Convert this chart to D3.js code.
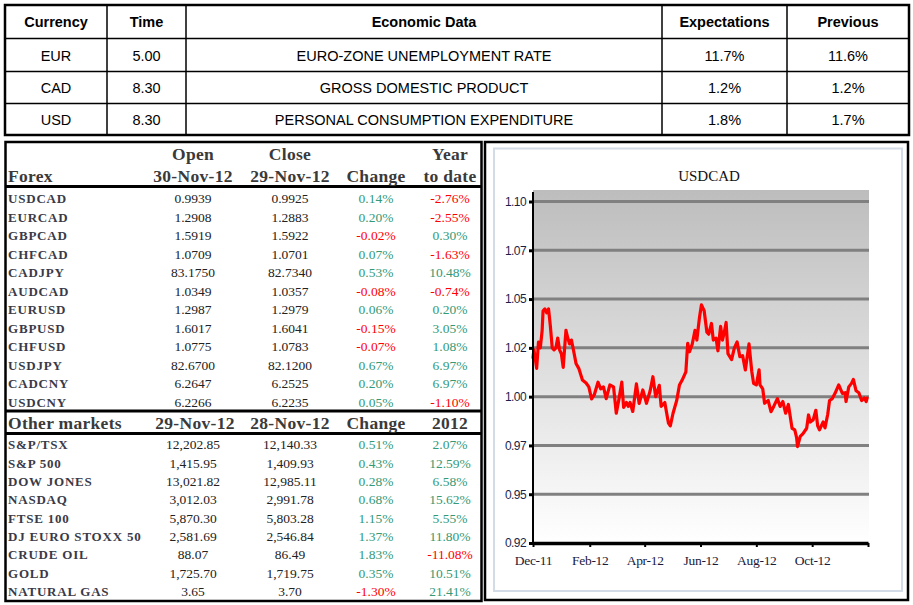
<!DOCTYPE html>
<html><head><meta charset="utf-8">
<script src="https://cdn.jsdelivr.net/npm/d3@7"></script>
<style>body{margin:0;background:#fff}svg{display:block}</style>
</head><body>
<svg id="c" width="913" height="605"></svg>
<script>
// ---------- DATA ----------
const calHeaders = ["Currency","Time","Economic Data","Expectations","Previous"];
const calCurrency = ["EUR","CAD","USD"];
const calTime = ["5.00","8.30","8.30"];
const calEvent = ["EURO-ZONE UNEMPLOYMENT RATE","GROSS DOMESTIC PRODUCT","PERSONAL CONSUMPTION EXPENDITURE"];
const calExpect = ["11.7%","1.2%","1.8%"];
const calPrev = ["11.6%","1.2%","1.7%"];

const fxHeadTop = ["","Open","Close","","Year"];
const fxHeadBottom = ["Forex","30-Nov-12","29-Nov-12","Change","to date"];
const fxNames = ["USDCAD","EURCAD","GBPCAD","CHFCAD","CADJPY","AUDCAD","EURUSD","GBPUSD","CHFUSD","USDJPY","CADCNY","USDCNY"];
const fxOpen = ["0.9939","1.2908","1.5919","1.0709","83.1750","1.0349","1.2987","1.6017","1.0775","82.6700","6.2647","6.2266"];
const fxClose = ["0.9925","1.2883","1.5922","1.0701","82.7340","1.0357","1.2979","1.6041","1.0783","82.1200","6.2525","6.2235"];
const fxChange = ["0.14%","0.20%","-0.02%","0.07%","0.53%","-0.08%","0.06%","-0.15%","-0.07%","0.67%","0.20%","0.05%"];
const fxYtd = ["-2.76%","-2.55%","0.30%","-1.63%","10.48%","-0.74%","0.20%","3.05%","1.08%","6.97%","6.97%","-1.10%"];

const mkHead = ["Other markets","29-Nov-12","28-Nov-12","Change","2012"];
const mkNames = ["S&P/TSX","S&P 500","DOW JONES","NASDAQ","FTSE 100","DJ EURO STOXX 50","CRUDE OIL","GOLD","NATURAL GAS"];
const mkLast = ["12,202.85","1,415.95","13,021.82","3,012.03","5,870.30","2,581.69","88.07","1,725.70","3.65"];
const mkPrev = ["12,140.33","1,409.93","12,985.11","2,991.78","5,803.28","2,546.84","86.49","1,719.75","3.70"];
const mkChange = ["0.51%","0.43%","0.28%","0.68%","1.15%","1.37%","1.83%","0.35%","-1.30%"];
const mkYtd = ["2.07%","12.59%","6.58%","15.62%","5.55%","11.80%","-11.08%","10.51%","21.41%"];

const chartTitle = "USDCAD";
const yTickValues = [0.925,0.95,0.975,1.0,1.025,1.05,1.075,1.10];
const yTickLabels = ["0.92","0.95","0.97","1.00","1.02","1.05","1.07","1.10"];
const xTickDates = ["2011-12-01","2012-02-01","2012-04-01","2012-06-01","2012-08-01","2012-10-01","2012-12-01"];
const xTickLabels = ["Dec-11","Feb-12","Apr-12","Jun-12","Aug-12","Oct-12",""];

const usdcadDates = ["2011-12-01","2011-12-02","2011-12-05","2011-12-07","2011-12-09","2011-12-11","2011-12-12","2011-12-14","2011-12-16","2011-12-18","2011-12-20","2011-12-22","2011-12-24","2011-12-26","2011-12-28","2011-12-30",
"2012-01-01","2012-01-03","2012-01-06","2012-01-08","2012-01-10","2012-01-12","2012-01-15","2012-01-17","2012-01-20","2012-01-24","2012-01-28","2012-01-31",
"2012-02-03","2012-02-06","2012-02-10","2012-02-13","2012-02-16","2012-02-19","2012-02-23","2012-02-27",
"2012-03-01","2012-03-04","2012-03-07","2012-03-09","2012-03-12","2012-03-14","2012-03-16","2012-03-19","2012-03-23","2012-03-26","2012-03-30",
"2012-04-03","2012-04-07","2012-04-10","2012-04-13","2012-04-17","2012-04-19","2012-04-23","2012-04-27","2012-04-29",
"2012-05-02","2012-05-06","2012-05-09","2012-05-12","2012-05-16","2012-05-18","2012-05-20","2012-05-23","2012-05-26","2012-05-28","2012-05-31",
"2012-06-02","2012-06-05","2012-06-08","2012-06-10","2012-06-13","2012-06-15","2012-06-18","2012-06-20","2012-06-23","2012-06-25","2012-06-27","2012-06-29",
"2012-07-01","2012-07-05","2012-07-08","2012-07-11","2012-07-14","2012-07-17","2012-07-20","2012-07-24","2012-07-27","2012-07-29",
"2012-08-01","2012-08-04","2012-08-05","2012-08-08","2012-08-10","2012-08-14","2012-08-17","2012-08-20","2012-08-24","2012-08-27","2012-08-30",
"2012-09-02","2012-09-05","2012-09-07","2012-09-09","2012-09-12","2012-09-14","2012-09-15","2012-09-18","2012-09-21","2012-09-25","2012-09-27","2012-09-29",
"2012-10-02","2012-10-05","2012-10-07","2012-10-09","2012-10-13","2012-10-15","2012-10-18","2012-10-20","2012-10-23","2012-10-26","2012-10-30",
"2012-11-03","2012-11-06","2012-11-07","2012-11-10","2012-11-13","2012-11-15","2012-11-18","2012-11-21","2012-11-24","2012-11-27","2012-11-29","2012-11-30"];
const usdcadValues = [1.020,1.024,1.0145,1.028,1.025,1.034,1.044,1.045,1.043,1.045,1.036,1.025,1.024,1.025,1.030,1.024,
1.022,1.015,1.034,1.030,1.027,1.029,1.022,1.017,1.0145,1.0085,1.007,1.005,
0.9988,1.001,1.0074,1.004,1.005,0.999,1.006,1.005,
0.9915,0.999,1.0074,0.9945,0.997,0.995,0.997,0.9924,1.0065,0.9965,1.0034,
0.9966,1.003,1.0102,1.000,1.0058,0.995,0.997,0.9864,0.985,
0.9915,0.998,1.006,1.0085,1.0127,1.0273,1.023,1.027,1.034,1.029,1.041,
1.047,1.044,1.033,1.032,1.0375,1.029,1.030,1.0235,1.036,1.029,1.033,1.038,
1.022,1.019,1.025,1.028,1.0205,1.021,1.0137,1.027,1.013,1.0068,
1.006,1.0137,1.006,1.004,0.9966,0.998,0.9923,0.995,0.999,0.995,0.9975,
0.9915,0.996,0.990,0.9838,0.983,0.979,0.9744,0.9796,0.981,0.9838,0.9906,0.987,
0.988,0.993,0.985,0.983,0.987,0.984,0.991,0.998,0.999,1.0017,1.006,
1.0017,1.002,0.9975,1.005,1.0068,1.0088,1.003,1.002,0.998,0.9993,0.9975,0.9993];

// ---------- DRAW ----------
const svg = d3.select("#c");
const SANS = "'Liberation Sans', Arial, sans-serif";
const SERIF = "'Liberation Serif', 'Times New Roman', serif";
const GREEN = "#339977", RED = "#ff0000";
const colFor = s => s.trim().startsWith("-") ? RED : GREEN;

// ===== top calendar table =====
const calG = svg.append("g");
const calX = [5,107,186,662,787,909];
const calY = [5,38.5,71.5,103.5,135];
calY.slice(1,-1).forEach(yy => calG.append("line").attr("x1",5).attr("x2",909).attr("y1",yy).attr("y2",yy).attr("stroke","#000").attr("stroke-width",1.5));
calX.slice(1,-1).forEach(xx => calG.append("line").attr("x1",xx).attr("x2",xx).attr("y1",5).attr("y2",135).attr("stroke","#000").attr("stroke-width",1.5));
calG.append("rect").attr("x",5).attr("y",5).attr("width",904).attr("height",130).attr("fill","none").attr("stroke","#000").attr("stroke-width",2.5);
const calCols = [calCurrency,calTime,calEvent,calExpect,calPrev];
calHeaders.forEach((h,i)=>{
  const cx = (calX[i]+calX[i+1])/2;
  calG.append("text").attr("x",cx).attr("y",(calY[0]+calY[1])/2+5).attr("text-anchor","middle")
    .attr("font-family",SANS).attr("font-size",14.5).attr("font-weight","bold").text(h);
  calCols[i].forEach((v,r)=>{
    calG.append("text").attr("x",cx).attr("y",(calY[r+1]+calY[r+2])/2+5.5).attr("text-anchor","middle")
      .attr("font-family",SANS).attr("font-size",14.5).text(v);
  });
});

// ===== left market table =====
const lt = svg.append("g");
const colC = [193,290,376,450];
lt.append("rect").attr("x",5.5).attr("y",142).attr("width",476).attr("height",459).attr("fill","none").attr("stroke","#000").attr("stroke-width",2.5);
[186.5,411,433.5].forEach(yy=>lt.append("line").attr("x1",5).attr("x2",482).attr("y1",yy).attr("y2",yy).attr("stroke","#000").attr("stroke-width",3));
const headStyle = s => s.attr("font-family",SERIF).attr("font-size",17.5).attr("font-weight","bold").attr("fill","#3a3a3a").attr("letter-spacing",0.3);
fxHeadTop.forEach((h,i)=>{ if(i>0 && h) headStyle(lt.append("text").attr("x",colC[i-1]).attr("y",160).attr("text-anchor","middle").text(h)); });
fxHeadBottom.forEach((h,i)=>{
  if(i===0) headStyle(lt.append("text").attr("x",8).attr("y",182).text(h));
  else headStyle(lt.append("text").attr("x",colC[i-1]).attr("y",182).attr("text-anchor","middle").text(h));
});
mkHead.forEach((h,i)=>{
  if(i===0) headStyle(lt.append("text").attr("x",8).attr("y",428.5).text(h));
  else headStyle(lt.append("text").attr("x",colC[i-1]+(i===1?2:0)).attr("y",428.5).attr("text-anchor","middle").text(h));
});
const fxRowY = d3.scaleLinear().domain([0,11]).range([203.3,406.7]);
const mkRowY = d3.scaleLinear().domain([0,8]).range([449.3,596]);
function drawRows(names, a, b, c, d, yS){
  names.forEach((n,r)=>{
    const yy = yS(r);
    lt.append("text").attr("x",8).attr("y",yy).attr("font-family",SERIF).attr("font-size",13).attr("font-weight","bold")
      .attr("letter-spacing",0.8).attr("fill","#3a3a48").text(n);
    [a[r],b[r]].forEach((v,k)=>lt.append("text").attr("x",colC[k]).attr("y",yy).attr("text-anchor","middle")
      .attr("font-family",SERIF).attr("font-size",13.5).attr("fill","#222").text(v));
    [c[r],d[r]].forEach((v,k)=>lt.append("text").attr("x",colC[k+2]).attr("y",yy).attr("text-anchor","middle")
      .attr("font-family",SERIF).attr("font-size",13.5).attr("fill",colFor(v)).text(v));
  });
}
drawRows(fxNames,fxOpen,fxClose,fxChange,fxYtd,fxRowY);
drawRows(mkNames,mkLast,mkPrev,mkChange,mkYtd,mkRowY);

// ===== chart panel =====
const cp = svg.append("g");
cp.append("rect").attr("x",485).attr("y",142).attr("width",423).attr("height",458).attr("fill","#fff").attr("stroke","#000").attr("stroke-width",2.5);
cp.append("rect").attr("x",494).attr("y",148.5).attr("width",408).attr("height",442.5).attr("fill","#fff").attr("stroke","#d3dbe6").attr("stroke-width",2);
cp.append("text").attr("x",709).attr("y",181).attr("text-anchor","middle").attr("font-family",SERIF).attr("font-size",15).attr("fill","#111").text(chartTitle);

const parse = d3.timeParse("%Y-%m-%d");
const x = d3.scaleTime().domain([parse(xTickDates[0]), parse(xTickDates[xTickDates.length-1])]).range([533,868]);
const y = d3.scaleLinear().domain([0.925,1.10]).range([543,201.5]);

const defs = svg.append("defs");
const gr = defs.append("linearGradient").attr("id","bg").attr("x1",0).attr("x2",0).attr("y1",0).attr("y2",1);
gr.append("stop").attr("offset","0%").attr("stop-color","#bdbdbd");
gr.append("stop").attr("offset","100%").attr("stop-color","#ffffff");
cp.append("rect").attr("x",533).attr("y",190).attr("width",336).attr("height",353).attr("fill","url(#bg)");

// gridlines
cp.append("g").selectAll("line").data(yTickValues.filter(v=>v>0.93)).join("line")
  .attr("x1",533).attr("x2",869).attr("y1",d=>y(d)).attr("y2",d=>y(d))
  .attr("stroke","#808080").attr("stroke-width",3);

// line
const pts = usdcadDates.map((d,i)=>({date:parse(d), v:usdcadValues[i]}));
cp.append("path").datum(pts).attr("fill","none").attr("stroke","#ff0000").attr("stroke-width",3.2)
  .attr("stroke-linejoin","round").attr("stroke-linecap","round")
  .attr("d", d3.line().x(d=>x(d.date)).y(d=>y(d.v)));

// y axis
const yAxis = cp.append("g").attr("transform","translate(533,0)")
  .call(d3.axisLeft(y).tickValues(yTickValues).tickFormat((d,i)=>yTickLabels[i]).tickSize(4).tickSizeOuter(0).tickPadding(3));
yAxis.select(".domain").remove();
yAxis.selectAll(".tick line").attr("stroke","#000").attr("stroke-width",3);
yAxis.selectAll(".tick text").attr("font-family",SANS).attr("font-size",12).attr("fill","#1a1f4a").attr("letter-spacing",-0.6);
cp.append("line").attr("x1",533).attr("x2",533).attr("y1",192).attr("y2",543).attr("stroke","#000").attr("stroke-width",2);

// x axis
const xAxis = cp.append("g").attr("transform","translate(0,543)")
  .call(d3.axisBottom(x).tickValues(xTickDates.map(parse)).tickFormat((d,i)=>xTickLabels[i]).tickSize(4).tickSizeOuter(0).tickPadding(8));
xAxis.select(".domain").attr("stroke","#000").attr("stroke-width",3.5);
xAxis.selectAll(".tick line").attr("stroke","#000").attr("stroke-width",2);
xAxis.selectAll(".tick text").attr("font-family",SERIF).attr("font-size",13.5).attr("fill","#1a1a3a").attr("letter-spacing",-0.3);
</script>
</body></html>
